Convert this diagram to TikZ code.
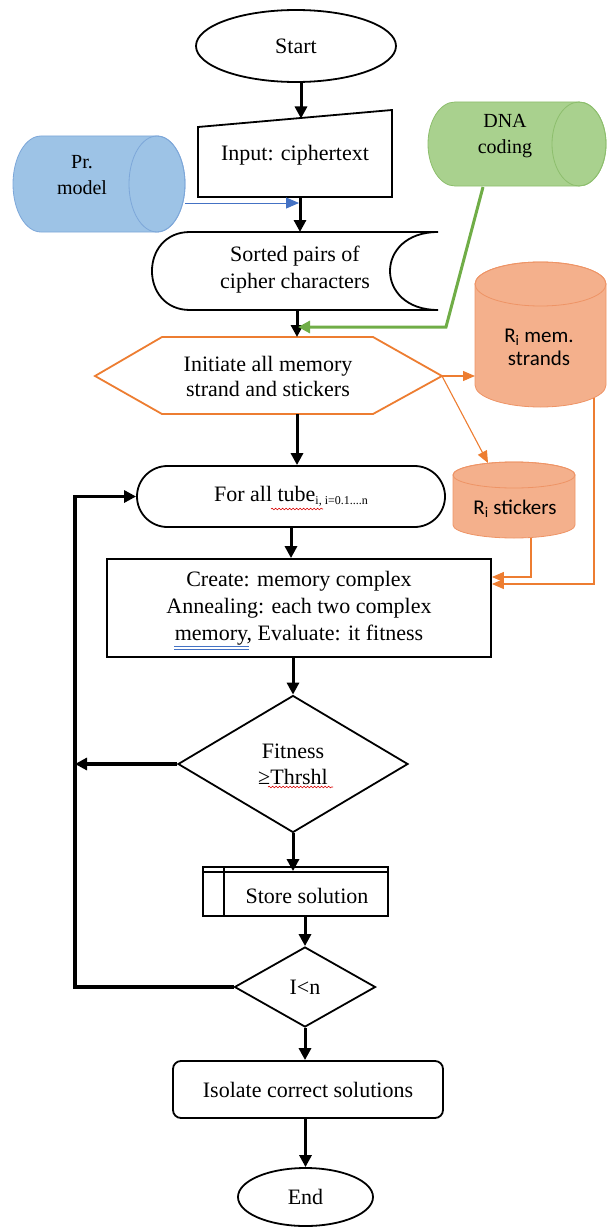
\documentclass[tikz,border=0pt]{standalone}
\usepackage{fontspec}
\setmainfont{Liberation Serif}
\newfontfamily\calib{Carlito}
\usetikzlibrary{shapes.geometric,shapes.misc,arrows.meta,decorations.pathmorphing}
\definecolor{orng}{HTML}{ED7D31}
\definecolor{salm}{HTML}{F4B08C}
\definecolor{salmdraw}{HTML}{EE9466}
\definecolor{lblue}{HTML}{9DC3E6}
\definecolor{bluedraw}{HTML}{7DA7D9}
\definecolor{bline}{HTML}{4472C4}
\definecolor{lgreen}{HTML}{A9D18E}
\definecolor{greendraw}{HTML}{8DBE6D}
\definecolor{gline}{HTML}{70AD47}
\begin{document}
\begin{tikzpicture}[x=1pt,y=-1pt,
  every node/.style={font=\fontsize{22}{27}\selectfont, inner sep=0pt, align=center},
  shp/.style={draw=black, line width=1.8pt, fill=white},
  flow/.style={line width=3pt, -{Triangle[width=12pt,length=12pt]}},
  loopln/.style={line width=3.5pt},
  orarrow/.style={orng, line width=1.1pt, -{Triangle[width=10pt,length=12pt]}},
  cylfont/.style={font=\fontsize{20}{26}\selectfont},
  sansfont/.style={font=\calib\fontsize{21}{23}\selectfont},
  squig/.style={red!85!black, line width=0.6pt, decorate, decoration={snake, amplitude=0.8pt, segment length=3.5pt}}
]
\useasboundingbox (0,0) rectangle (607,1228);

% Start
\node[shp, ellipse, minimum width=200pt, minimum height=72pt] (start) at (296,46) {Start};

% Input (manual input)
\draw[shp] (198,127) -- (392,110) -- (392,197) -- (198,197) -- cycle;
\node (input) at (295,155) {Input: ciphertext};
\coordinate (inTop) at (301,118.5);
\coordinate (inBot) at (300,197);

% Pr. model cylinder
\draw[fill=lblue, draw=bluedraw, line width=0.8pt] (41,136) -- (157,136)
  arc[start angle=-90,end angle=90,x radius=28,y radius=48] -- (41,232)
  arc[start angle=90,end angle=270,x radius=28,y radius=48] -- cycle;
\draw[bluedraw, line width=0.8pt] (157,184) ellipse[x radius=28, y radius=48];
\node[cylfont] (prm) at (82,175) {Pr.\\model};
\coordinate (prOut) at (185,203);
\coordinate (prIn) at (299,203);

% DNA coding cylinder
\draw[fill=lgreen, draw=greendraw, line width=0.8pt] (455,102) -- (579,102)
  arc[start angle=-90,end angle=90,x radius=27,y radius=42] -- (455,186)
  arc[start angle=90,end angle=270,x radius=27,y radius=42] -- cycle;
\draw[greendraw, line width=0.8pt] (579,144) ellipse[x radius=27, y radius=42];
\node[cylfont] (dna) at (505,136) {DNA\\coding};
\coordinate (dnaOut) at (483,187);
\coordinate (gBend) at (446,327);
\coordinate (gEnd) at (298,327);

% Sorted pairs (stored data)
\draw[shp] (190,232) -- (438,232) .. controls (374,232) and (374,310) .. (438,310)
  -- (190,310) .. controls (139.3,310) and (139.3,232) .. (190,232) -- cycle;
\node (sorted) at (295,270) {Sorted pairs of\\cipher characters};
\coordinate (sortTop) at (300,232);
\coordinate (sortBot) at (297,310);

% Hexagon
\draw[draw=orng, line width=1.8pt, fill=white] (95,376) -- (162,337) -- (373,337) -- (442,376) -- (373,414) -- (162,414) -- cycle;
\node[font=\fontsize{22}{25}\selectfont] (init) at (268,376) {Initiate all memory\\strand and stickers};
\coordinate (hexTop) at (297,337);
\coordinate (hexBot) at (297,414);
\coordinate (hexR) at (442,376);

% Ri mem. strands cylinder
\draw[fill=salm, draw=salmdraw, line width=0.8pt] (475,284) -- (475,385)
  arc[start angle=180,end angle=0,x radius=65.5,y radius=22] -- (606,284)
  arc[start angle=0,end angle=-180,x radius=65.5,y radius=22] -- cycle;
\draw[salmdraw, line width=0.8pt] (540.5,284) ellipse[x radius=65.5, y radius=22];
\node[sansfont] (rmem) at (539,347) {R\textsubscript{i} mem.\\strands};
\coordinate (rmemL) at (475,376);
\coordinate (rmemB) at (594,398);

% Ri stickers cylinder
\draw[fill=salm, draw=salmdraw, line width=0.8pt] (453,475) -- (453,525)
  arc[start angle=180,end angle=0,x radius=61,y radius=13] -- (575,475)
  arc[start angle=0,end angle=-180,x radius=61,y radius=13] -- cycle;
\draw[salmdraw, line width=0.8pt] (514,475) ellipse[x radius=61, y radius=13];
\node[sansfont] (rstk) at (515,509) {R\textsubscript{i} stickers};
\coordinate (rstkT) at (488,463);
\coordinate (rstkB) at (531,538);

% For all tube
\node[shp, rounded rectangle, minimum width=308pt, minimum height=61pt] (forall) at (291,496.5)
  {For all tube{\fontsize{12}{12}\selectfont\raisebox{-3pt}{i, i=0.1....n}}};
\draw[squig] (271,509) -- (323,509);

% Create box
\node[shp, rectangle, minimum width=384pt, minimum height=98pt] (create) at (299,608)
  {Create: memory complex\\Annealing: each two complex\\memory, Evaluate: it fitness};
\draw[bline, line width=0.6pt] (174,646) -- (249,646);
\draw[bline, line width=0.6pt] (174,649) -- (249,649);

% Fitness diamond
\node[shp, diamond, aspect=1.68, minimum width=230pt, minimum height=137pt, font=\fontsize{22}{26}\selectfont] (fit) at (293,764) {Fitness\\≥Thrshl};
\draw[squig] (268,787) -- (333,787);

% Store solution
\node[shp, rectangle, minimum width=185pt, minimum height=49pt] (store) at (295.5,891.5) {};
\draw[line width=1.4pt] ([yshift=-6pt]store.north west) -- ([yshift=-6pt]store.north east);
\draw[line width=1.4pt] ([xshift=22pt]store.north west) -- ([xshift=22pt]store.south west);
\node (storetxt) at (307,896) {Store solution};

% I<n diamond
\node[shp, diamond, aspect=1.76, minimum width=141pt, minimum height=80pt] (inn) at (305,987) {I<n};

% Isolate
\node[shp, rectangle, rounded corners=8pt, minimum width=270pt, minimum height=57pt] (iso) at (308,1089.5) {Isolate correct solutions};

% End
\node[shp, ellipse, minimum width=135pt, minimum height=58pt] (end) at (305.5,1197) {End};

% main flow arrows
\draw[flow] (start.south -| inTop) -- (inTop);
\draw[flow] (inBot) -- (sortTop);
\draw[flow] (sortBot) -- (hexTop);
\draw[flow] (hexBot) -- (hexBot |- forall.north);
\draw[flow] (forall.south) -- (forall.south |- create.north);
\draw[flow] (create.south -| fit.north) -- (fit.north);
\draw[flow] (fit.south) -- ([yshift=-5pt]fit.south |- store.north);
\draw[flow] (store.south -| inn.north) -- (inn.north);
\draw[flow] (inn.south) -- (inn.south |- iso.north);
\draw[flow] (iso.south -| end.north) -- (end.north);

% side inputs
\draw[bline, line width=1pt, -{Triangle[width=11pt,length=13pt]}] (prOut) -- (prIn);
\draw[gline, line width=3pt, -{Triangle[width=12pt,length=12pt]}] (dnaOut) -- (gBend) -- (gEnd);
\draw[orarrow] (hexR) -- (rmemL);
\draw[orarrow] (hexR) -- (rstkT);
\draw[orarrow] (rstkB) |- ([yshift=31pt]create.east);
\draw[orarrow] (rmemB) |- ([yshift=24pt]create.east);

% loop
\coordinate (loopT) at (75,496.5);
\draw[loopln, -{Triangle[width=12pt,length=12pt]}] (inn.west) -- (inn.west -| loopT) -- (loopT) -- (forall.west);
\draw[loopln, -{Triangle[width=12pt,length=12pt]}] (fit.west) -- (fit.west -| loopT);
\end{tikzpicture}
\end{document}
